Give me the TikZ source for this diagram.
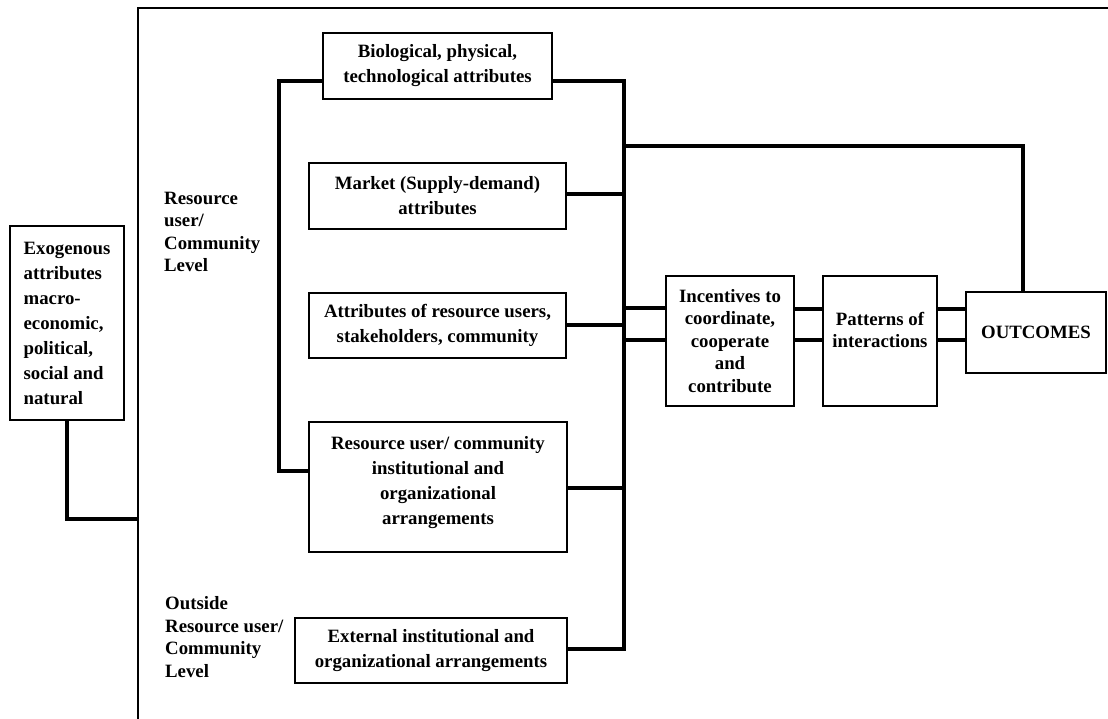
\documentclass[tikz,border=0pt]{standalone}
\usepackage{fontspec}
\setmainfont{Liberation Serif}
\usetikzlibrary{positioning}

\begin{document}
\begin{tikzpicture}[
  x=1pt, y=-1pt,
  font=\bfseries\fontsize{18.8}{22.5}\selectfont,
  box/.style={draw, line width=1.3pt, align=center, inner sep=2pt},
  tallbox/.style={box, font=\bfseries\fontsize{18.8}{25}\selectfont},
  lvl/.style={anchor=west, align=left, inner sep=0pt},
  conn/.style={line width=4pt},
  frame/.style={line width=2pt},
]
\useasboundingbox (0,0) rectangle (1108,719);

% Outer frame (top and left only)
\draw[frame] (1108,8) -- (138,8) -- (138,719);

% Exogenous attributes
\node[tallbox, align=left, minimum width=114pt, minimum height=194pt] (exo) at (67,323)
  {Exogenous\\attributes\\macro-\\economic,\\political,\\social and\\natural};

% Level labels
\node[lvl] (lvlin) at (164,232) {Resource\\user/\\Community\\Level};
\node[lvl] (lvlout) at (165,637) {Outside\\Resource user/\\Community\\Level};

% Attribute boxes
\node[tallbox, minimum width=229pt, minimum height=66pt] (bio) at (437.5,66)
  {Biological, physical,\\technological attributes};
\node[tallbox, minimum width=257pt, minimum height=66pt] (market) at (437.5,196)
  {Market (Supply-demand)\\attributes};
\node[tallbox, minimum width=257pt, minimum height=65pt] (users) at (437.5,325.5)
  {Attributes of resource users,\\stakeholders, community};
\node[tallbox, minimum width=258pt, minimum height=130pt] (inst) at (438,487)
  {Resource user/ community\\institutional and\\organizational\\arrangements\\[-12pt]};
\node[tallbox, minimum width=272pt, minimum height=65pt] (ext) at (431,650.5)
  {External institutional and\\organizational arrangements};

% Chain to outcomes
\node[box, minimum width=128pt, minimum height=130pt] (incent) at (730,341)
  {Incentives to\\coordinate,\\cooperate\\and\\contribute};
\node[box, minimum width=114pt, minimum height=130pt] (patt) at (880,341)
  {Patterns of\\interactions\\[0pt]};
\node[box, minimum width=140pt, minimum height=81pt] (out) at (1036,332.5)
  {OUTCOMES};

% Bus coordinates
\coordinate (rbar) at (623,146);
\coordinate (fl) at (138,519);

% Left bracket: bio -> inst
\draw[conn] ([yshift=-15pt]bio.west) -| ([xshift=-29pt,yshift=16pt]inst.west)
  -- ([yshift=16pt]inst.west);

% Right bus
\draw[conn] ([yshift=-15pt]bio.east) -| ([xshift=56pt,yshift=2pt]ext.east)
  -- ([yshift=2pt]ext.east);
\draw[conn] ([yshift=2pt]market.east) -- ([yshift=2pt]market.east -| rbar);
\draw[conn] ([yshift=1pt]users.east) -- ([yshift=1pt]users.east -| rbar);
\draw[conn] ([yshift=-1pt]inst.east) -- ([yshift=-1pt]inst.east -| rbar);
\draw[conn] (rbar) -| ([xshift=-13pt]out.north);

% Bus -> incentives -> patterns -> outcomes
\draw[conn] ([yshift=33pt]incent.west) -- ([yshift=33pt]incent.west -| rbar);
\draw[conn] ([yshift=1pt]incent.west) -- ([yshift=1pt]incent.west -| rbar);
\draw[conn] ([yshift=32pt]incent.east) -- ([yshift=32pt]patt.west);
\draw[conn] ([yshift=1pt]incent.east) -- ([yshift=1pt]patt.west);
\draw[conn] ([yshift=32pt]patt.east) -- ([yshift=32pt]patt.east -| out.west);
\draw[conn] ([yshift=1pt]patt.east) -- ([yshift=1pt]patt.east -| out.west);

% Exogenous -> frame
\draw[conn] (exo.south) |- (fl);

\end{tikzpicture}
\end{document}
